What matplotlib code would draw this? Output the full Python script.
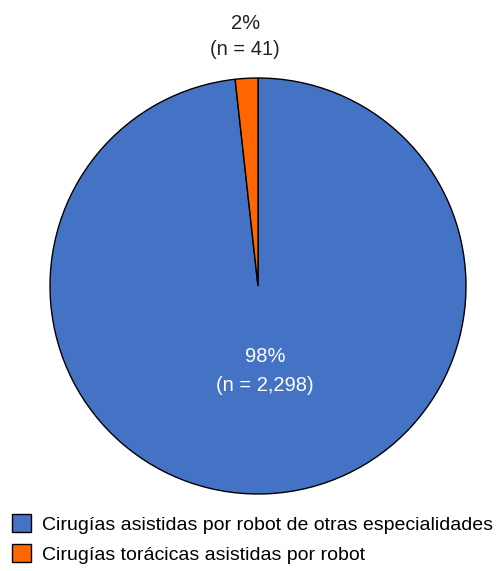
import matplotlib.pyplot as plt

# Data
labels = ["Cirugías asistidas por robot de otras especialidades",
          "Cirugías torácicas asistidas por robot"]
counts = [2298, 41]
pct_labels = ["98%\n(n = 2,298)", "2%\n(n = 41)"]
colors = ["#4472C4", "#FF6600"]

plt.rcParams['font.family'] = ['Liberation Sans', 'DejaVu Sans']

fig = plt.figure(figsize=(5.04, 5.71), dpi=100)
ax = fig.add_axes([50 / 504, 77 / 571, 416 / 504, 416 / 571])

wedges, _ = ax.pie(counts, colors=colors, startangle=90, counterclock=False,
                   wedgeprops=dict(edgecolor='black', linewidth=1))
ax.set_xlim(-1, 1)
ax.set_ylim(-1, 1)
ax.set_aspect('equal')

ax.text(0.034, -0.41, pct_labels[0], ha='center', va='center', color='white',
        fontsize=14.5, linespacing=1.65)
ax.text(-0.062, 1.20, pct_labels[1], ha='center', va='center', color='#222222',
        fontsize=14.5, linespacing=1.45, clip_on=False)

fig.legend(wedges, labels, loc='upper left', bbox_to_anchor=(0.008, 0.113),
           frameon=False, fontsize=14, handlelength=1.0, handleheight=1.0,
           handletextpad=0.55, labelspacing=0.55, borderaxespad=0)

fig.savefig('out.png', dpi=100)
